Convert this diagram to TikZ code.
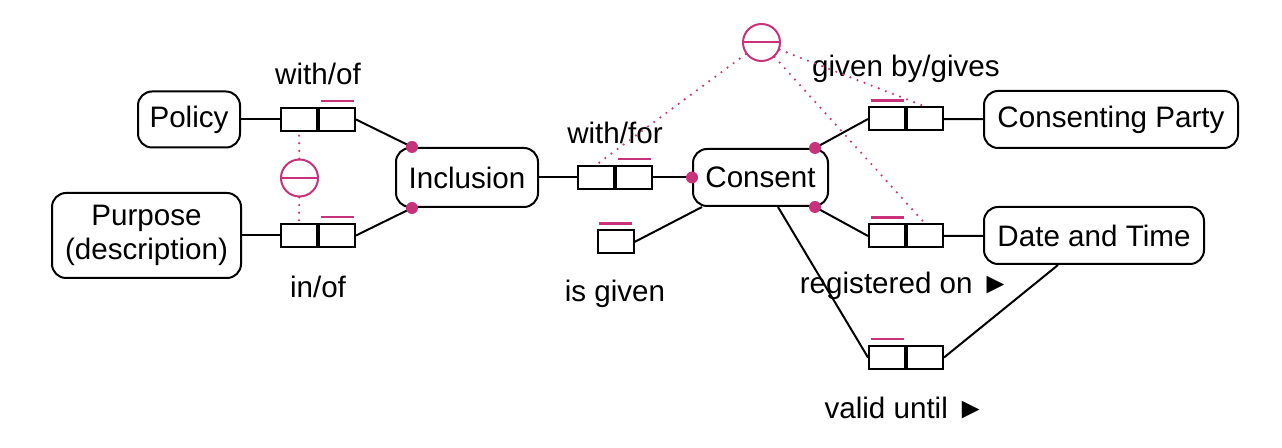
\documentclass[tikz,border=0pt]{standalone}
\usepackage{fontspec}
\setmainfont{Liberation Sans}
\usetikzlibrary{calc}
\definecolor{mag}{RGB}{200,50,122}
\begin{document}
\begin{tikzpicture}[x=0.5pt,y=-0.5pt,
 every node/.style={font=\fontsize{14.8}{16.8}\selectfont},
 ent/.style={draw,line width=1pt,rounded corners=7pt,inner sep=0pt,align=center},
 cell/.style={draw,line width=1pt,minimum width=18pt,minimum height=11.5pt,inner sep=0pt},
 conn/.style={line width=1pt},
 bar/.style={draw=mag,line width=1.1pt},
 dotc/.style={circle,fill=mag,minimum size=6pt,inner sep=0pt},
 excl/.style={circle,draw=mag,line width=1pt,minimum size=18.5pt,inner sep=0pt},
 dotl/.style={draw=mag,line width=1.2pt,dash pattern=on 0pt off 3.8pt,line cap=round},
 lbl/.style={inner sep=0pt}
]
\useasboundingbox (0,0) rectangle (1282,448);

% entities
\node[ent,minimum width=51pt,minimum height=28pt] (pol) at (189,119.5) {Policy};
\node[ent,minimum width=94.5pt,minimum height=42.5pt] (pur) at (146.5,235.5) {Purpose\\(description)};
\node[ent,minimum width=71pt,minimum height=29.5pt] (inc) at (467,177.5) {Inclusion};
\node[ent,minimum width=67.5pt,minimum height=28.5pt] (con) at (760.5,177.5) {Consent};
\node[ent,minimum width=127pt,minimum height=28.5pt] (cp) at (1111,119.5) {Consenting Party};
\node[ent,minimum width=110pt,minimum height=28.5pt] (dt) at (1094,235.5) {Date and Time};

% role cells
\node[cell] (wo1) at (299,119.5) {};
\node[cell] (wo2) at (337,119.5) {};
\node[cell] (io1) at (299,235.5) {};
\node[cell] (io2) at (337,235.5) {};
\node[cell] (wf1) at (596,177.5) {};
\node[cell] (wf2) at (634,177.5) {};
\node[cell] (ig) at (615.5,242) {};
\node[cell] (gb1) at (887,119) {};
\node[cell] (gb2) at (925,119) {};
\node[cell] (ro1) at (887,236) {};
\node[cell] (ro2) at (925,236) {};
\node[cell] (vu1) at (887,357.5) {};
\node[cell] (vu2) at (925,357.5) {};

% uniqueness bars
\draw[bar] ([xshift=-8.25pt,yshift=3pt]wo2.north) -- ([xshift=8.25pt,yshift=3pt]wo2.north);
\draw[bar] ([xshift=-8.25pt,yshift=3pt]io2.north) -- ([xshift=8.25pt,yshift=3pt]io2.north);
\draw[bar] ([xshift=-8.25pt,yshift=3pt]wf2.north) -- ([xshift=8.25pt,yshift=3pt]wf2.north);
\draw[bar] ([xshift=-8.25pt,yshift=3pt]ig.north) -- ([xshift=8.25pt,yshift=3pt]ig.north);
\draw[bar] ([xshift=-8.25pt,yshift=3pt]gb1.north) -- ([xshift=8.25pt,yshift=3pt]gb1.north);
\draw[bar] ([xshift=-8.25pt,yshift=3pt]ro1.north) -- ([xshift=8.25pt,yshift=3pt]ro1.north);
\draw[bar] ([xshift=-8.25pt,yshift=3pt]vu1.north) -- ([xshift=8.25pt,yshift=3pt]vu1.north);

% labels
\node[lbl] (lwo) at (318,74) {with/of};
\node[lbl] (lio) at (318,287) {in/of};
\node[lbl] (lwf) at (615,133) {with/for};
\node[lbl] (lig) at (615,294) {is given};
\node[lbl] (lgb) at (906,69) {given by/gives};
\node[lbl] (lro) at (905,286) {registered on ►};
\node[lbl] (lvu) at (905,408) {valid until ►};

% role attachment points
\coordinate (c1) at ([xshift=8.5pt]inc.north west);
\coordinate (c2) at ([xshift=8.5pt]inc.south west);
\coordinate (c3) at (con.west);
\coordinate (c4) at ([xshift=-7pt]con.north east);
\coordinate (c5) at ([xshift=-7pt]con.south east);

% connectors
\draw[conn] (pol) -- (wo1);
\draw[conn] (wo2.east) -- (c1);
\draw[conn] (pur) -- (io1);
\draw[conn] (io2.east) -- (c2);
\draw[conn] (inc) -- (wf1);
\draw[conn] (wf2.east) -- (c3);
\draw[conn] (ig.east) -- ([xshift=5pt]con.south west);
\draw[conn] (c4) -- (gb1.west);
\draw[conn] (gb2) -- (cp);
\draw[conn] (c5) -- (ro1.west);
\draw[conn] (ro2) -- (dt);
\draw[conn] ([xshift=8.75pt]con.south) -- (vu1.west);
\draw[conn] (vu2.east) -- ([xshift=-18pt]dt.south);

% exclusion constraints
\node[excl] (ex1) at (299.5,178) {};
\draw[mag,line width=1pt] (ex1.west) -- (ex1.east);
\node[excl] (ex2) at (761.5,42.5) {};
\draw[mag,line width=1pt] (ex2.west) -- (ex2.east);
\draw[dotl] (ex1) -- (wo1.south);
\draw[dotl] (ex1) -- (io1.north);
\draw[dotl] (ex2) -- (wf1.north);
\draw[dotl] (ex2) -- (gb2.north);
\draw[dotl] (ex2) -- (ro2.north);

% role dots
\node[dotc] (dot1) at (c1) {};
\node[dotc] (dot2) at (c2) {};
\node[dotc] (dot3) at (c3) {};
\node[dotc] (dot4) at (c4) {};
\node[dotc] (dot5) at (c5) {};
\end{tikzpicture}
\end{document}
